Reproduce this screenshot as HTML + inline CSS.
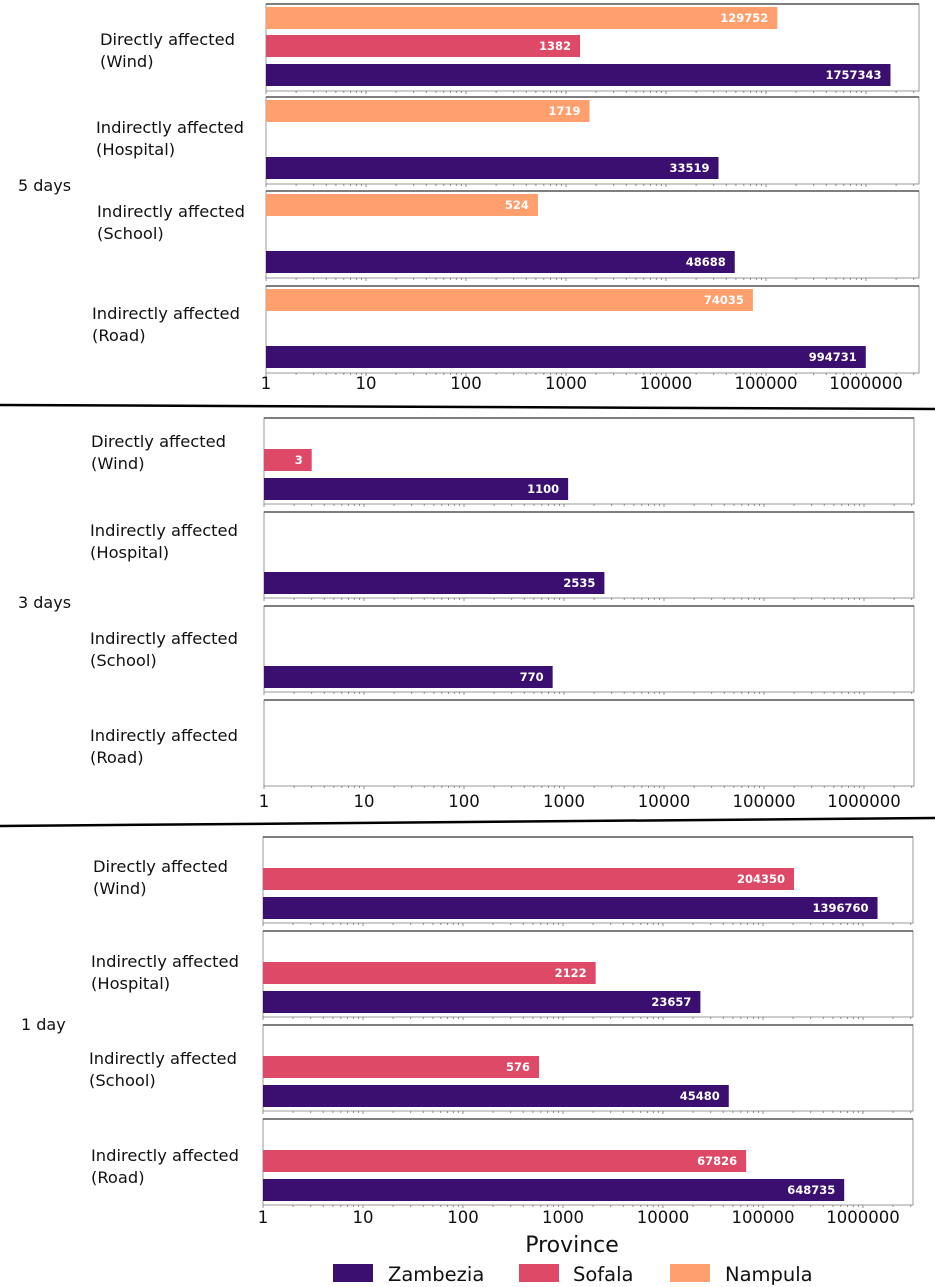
<!DOCTYPE html>
<html><head><meta charset="utf-8">
<style>
html,body{margin:0;padding:0;background:#fff;}
body{width:935px;height:1287px;overflow:hidden;}
svg{display:block;font-family:"DejaVu Sans","Liberation Sans",sans-serif;}
</style></head>
<body>
<svg id="chart" width="935" height="1287" viewBox="0 0 935 1287" xmlns="http://www.w3.org/2000/svg"></svg>
<script>
const sections = ["5 days","3 days","1 day"];
const categories = ["Directly affected|(Wind)","Indirectly affected|(Hospital)","Indirectly affected|(School)","Indirectly affected|(Road)"];
const seriesNames = ["Zambezia","Sofala","Nampula"];
// values[section][category] ; null = no bar
const zambezia = [[1757343,33519,48688,994731],[1100,2535,770,null],[1396760,23657,45480,648735]];
const sofala   = [[1382,null,null,null],[3,null,null,null],[204350,2122,576,67826]];
const nampula  = [[129752,1719,524,74035],[null,null,null,null],[null,null,null,null]];
const tickLabels = ["1","10","100","1000","10000","100000","1000000"];

const colors = ["#3b0f70","#de4968","#fe9f6d"];
const svg = document.getElementById('chart');
const NS = "http://www.w3.org/2000/svg";
function mk(tag, attrs, parent){
  const e = document.createElementNS(NS, tag);
  for (const k in attrs) e.setAttribute(k, attrs[k]);
  (parent||svg).appendChild(e); return e;
}
const layout = [
  {x0:266, right:919, tops:[4,97,191,286], h:87, tickY:389, secLabel:[18,191],
   lab:[[100,39],[96,127],[97,211],[92,313]]},
  {x0:264, right:914, tops:[418,512,606,700], h:86, tickY:807, secLabel:[18,608],
   lab:[[91,441],[90,530],[90,638],[90,735]]},
  {x0:263, right:913, tops:[837,931,1025,1119], h:86, tickY:1223, secLabel:[21,1030],
   lab:[[93,866],[91,961],[89,1058],[91,1155]]}
];
const decade = 100;
function xScale(s, v){ return layout[s].x0 + Math.log10(v)*decade; }
const slotOff = [71,42,14];
const barH = 22;
const seriesData = [zambezia, sofala, nampula];

sections.forEach((sec, s) => {
  const L = layout[s];
  const g = mk('g', {});
  
  
  const st = mk('text', {x:L.secLabel[0], y:L.secLabel[1], 'font-size':16, fill:'#111'}, g);
  st.textContent = sec;
  
  
  categories.forEach((cat, c) => {
    const top = L.tops[c];
    const panel = mk('rect', {x:L.x0, y:top, width:L.right-L.x0, height:L.h, fill:'#fff', stroke:'#999', 'stroke-width':1}, g);
    
    
    mk('line', {x1:L.x0, x2:L.right, y1:top, y2:top, stroke:'#555', 'stroke-width':1.5}, g);
    for (let d=0; d<7; d++) for (let m=1; m<10; m++) {
      const v = Math.pow(10,d)*m; const x = xScale(s, v);
      if (x > L.right) continue;
      mk('line', {x1:x, x2:x, y1:top+L.h, y2:top+L.h+(m===1?3:2), stroke:'#777', 'stroke-width':0.8}, g);
    }
    const parts = cat.split('|');
    const lt = mk('text', {x:L.lab[c][0], y:L.lab[c][1]+6, 'font-size':16.3, fill:'#111'}, g);
    
    
    const t1 = mk('tspan', {x:L.lab[c][0]}, lt); t1.textContent = parts[0];
    const t2 = mk('tspan', {x:L.lab[c][0], dy:22}, lt); t2.textContent = parts[1];
    seriesData.forEach((arr, k) => {
      const v = arr[s][c];
      if (v == null) return;
      const x1 = xScale(s, v);
      const cy = top + slotOff[k];
      const b = mk('rect', {x:L.x0, y:cy-barH/2, width:x1-L.x0, height:barH, fill:colors[k]}, g);
      
      
      const vt = mk('text', {x:x1-9, y:cy+4, 'font-size':11.5, 'font-weight':'bold', fill:'#fff', 'text-anchor':'end'}, g);
      vt.textContent = v;
      
      
    });
  });
  tickLabels.forEach((t, i) => {
    const x = xScale(s, Math.pow(10, i));
    const tt = mk('text', {x:x, y:L.tickY, 'font-size':16.5, fill:'#111', 'text-anchor':'middle'}, g);
    tt.textContent = t;
    
    
  });
});
const sep1 = mk('line', {x1:0, y1:405, x2:935, y2:409, stroke:'#000', 'stroke-width':2.5});


const sep2 = mk('line', {x1:0, y1:826, x2:935, y2:818, stroke:'#000', 'stroke-width':2.5});


const at = mk('text', {x:572, y:1252, 'font-size':22, fill:'#111', 'text-anchor':'middle'});
at.textContent = 'Province';


const legX = [[333,388],[519,573],[670,725]];
seriesNames.forEach((n, k) => {
  const sw = mk('rect', {x:legX[k][0], y:1264, width:40, height:18, fill:colors[k]});
  
  
  const lt = mk('text', {x:legX[k][1], y:1281, 'font-size':19.5, fill:'#111'});
  lt.textContent = n;
  
  
});
</script>
</body></html>
